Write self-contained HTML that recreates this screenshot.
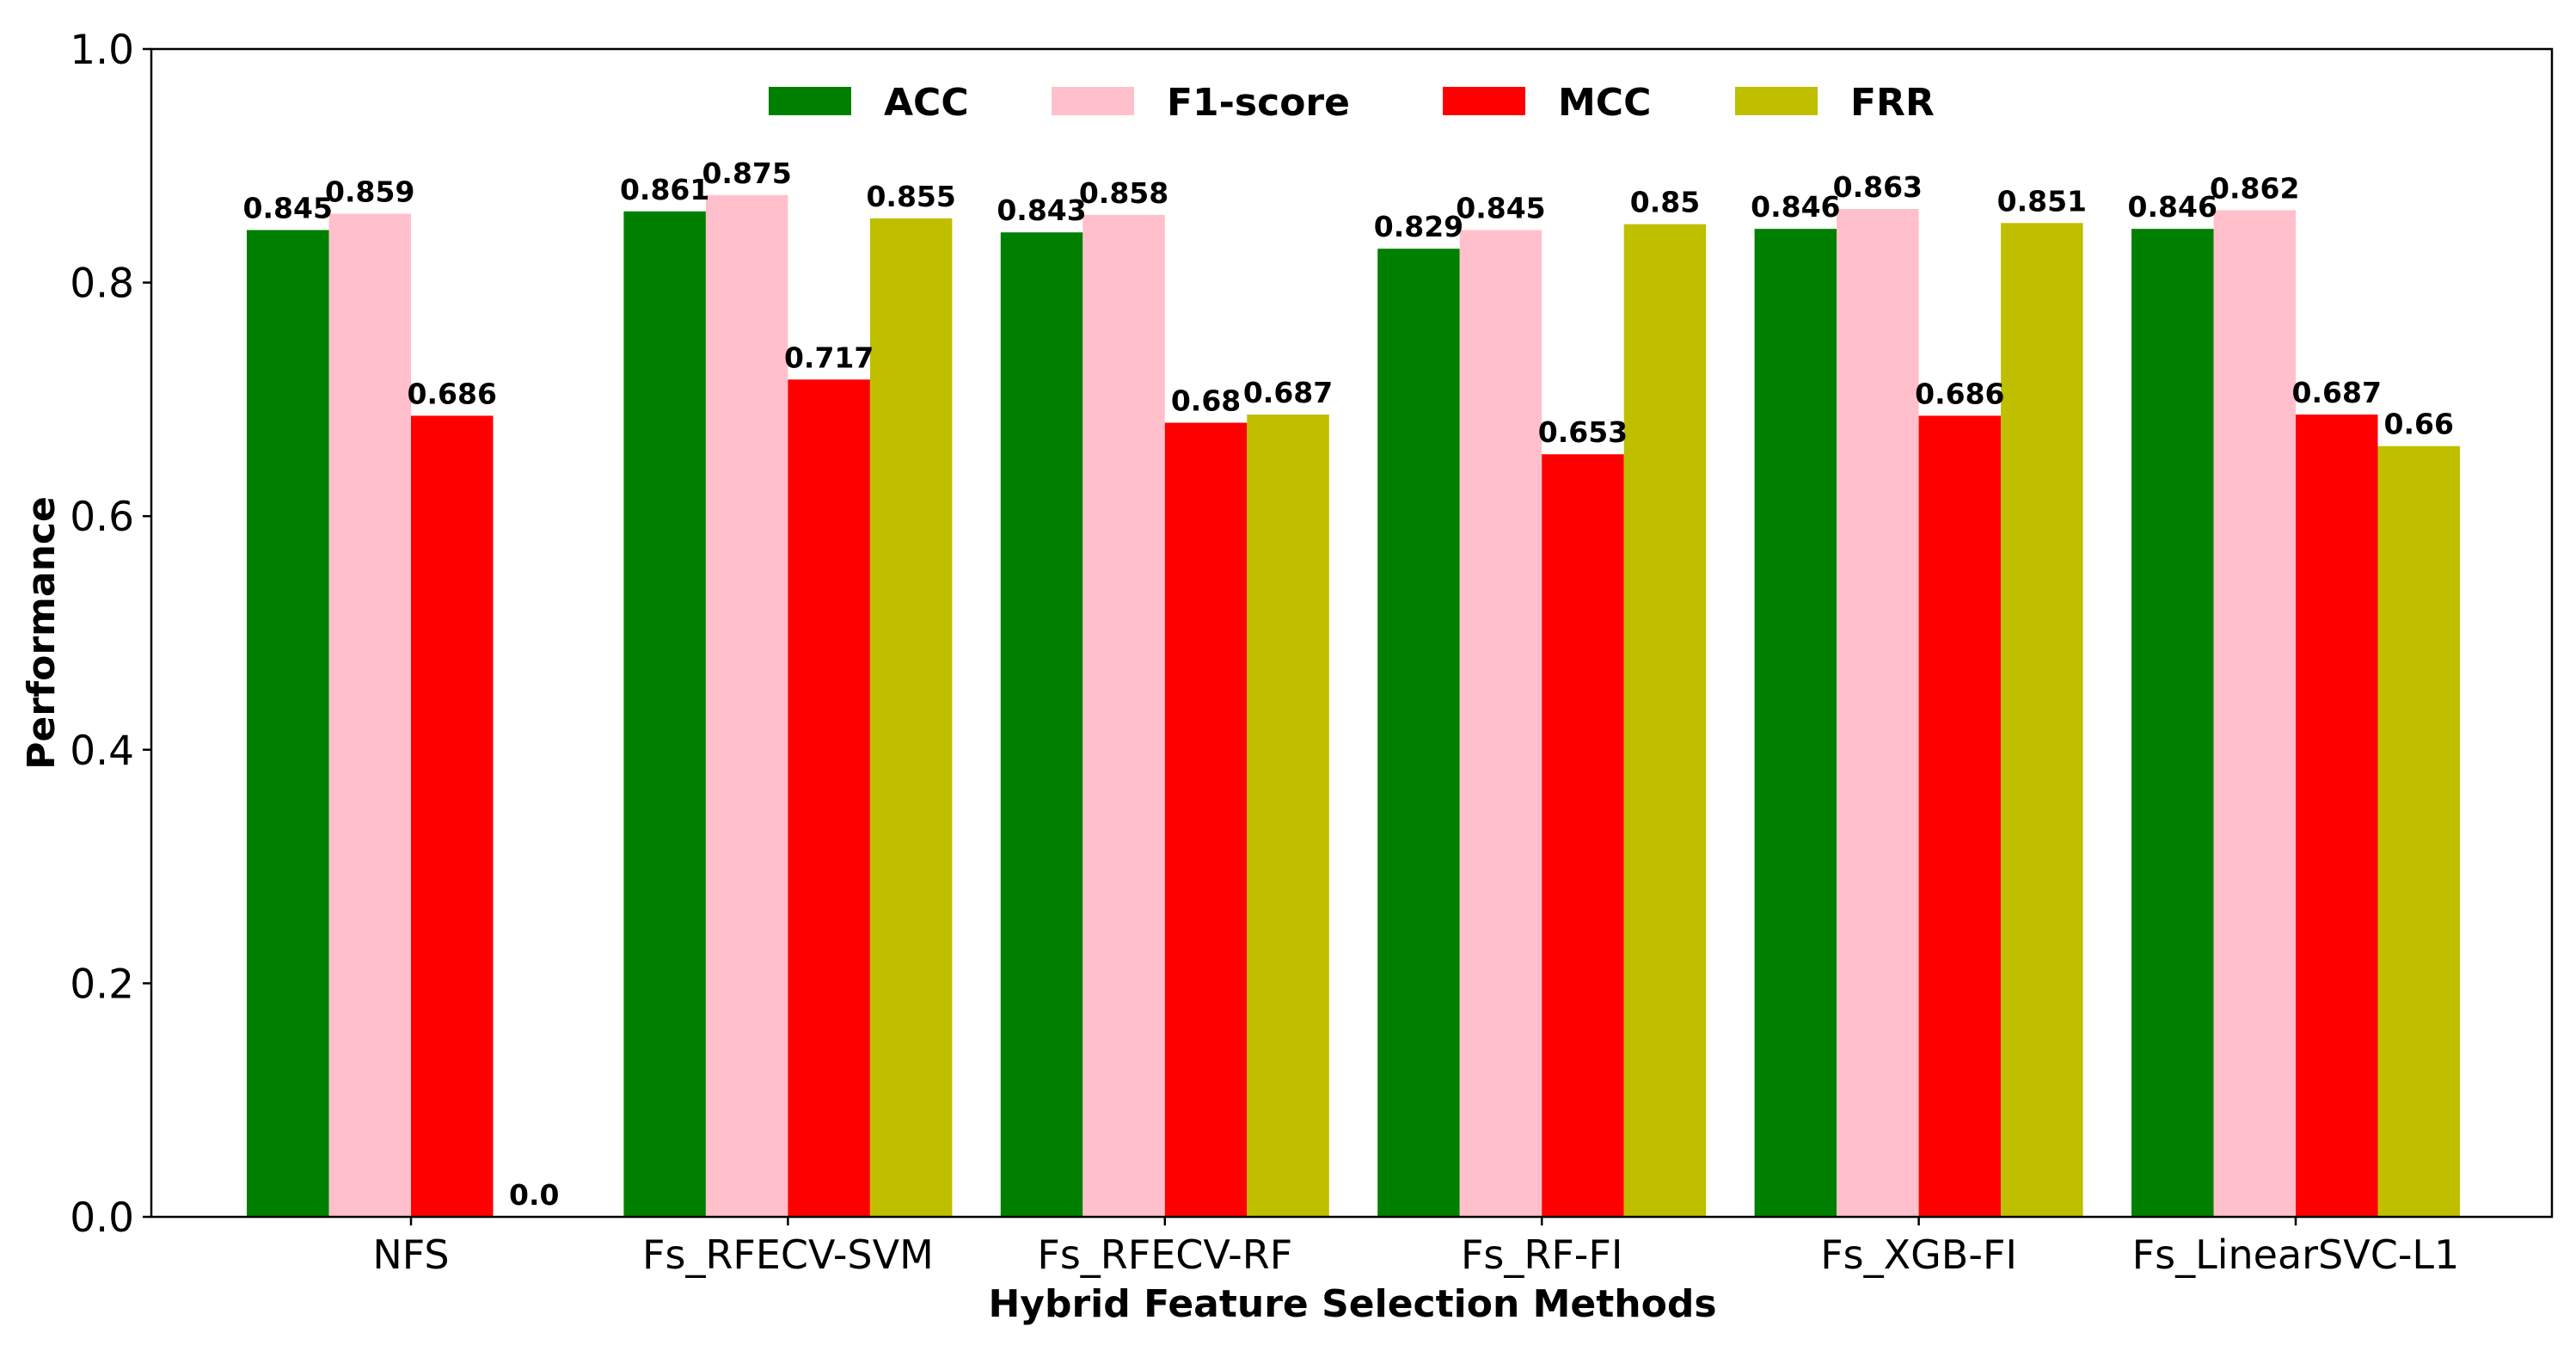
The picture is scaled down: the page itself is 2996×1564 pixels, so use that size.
<!DOCTYPE html>
<html><head><meta charset="utf-8"><style>
html,body{margin:0;padding:0;background:#fff;}
svg{display:block;font-family:"DejaVu Sans","Liberation Sans",sans-serif;}
</style></head><body>
<svg id="chart" width="2996" height="1564" viewBox="0 0 2996 1564" xmlns="http://www.w3.org/2000/svg"></svg>
<script>
const categories = ["NFS","Fs_RFECV-SVM","Fs_RFECV-RF","Fs_RF-FI","Fs_XGB-FI","Fs_LinearSVC-L1"];
const seriesNames = ["ACC","F1-score","MCC","FRR"];
const accValues = [0.845,0.861,0.843,0.829,0.846,0.846];
const f1Values = [0.859,0.875,0.858,0.845,0.863,0.862];
const mccValues = [0.686,0.717,0.68,0.653,0.686,0.687];
const frrValues = [0.0,0.855,0.687,0.85,0.851,0.66];
const yTicks = [0.0,0.2,0.4,0.6,0.8,1.0];

const NS="http://www.w3.org/2000/svg";
const svg=document.getElementById('chart');
const L=176,R=2968,T=57,B=1415;
const colors=["#008000","#ffc0cb","#ff0000","#bfbf00"];
const series=[accValues,f1Values,mccValues,frrValues];
const x0=478;
const groupW=438.4;
const barW=95.5;
function xScale(i){return x0+i*groupW;}
function yScale(v){return B-(v-0)/(1-0)*(B-T);}
function mk(tag,attrs,parent){const e=document.createElementNS(NS,tag);for(const k in attrs)e.setAttribute(k,attrs[k]);(parent||svg).appendChild(e);return e;}
function fmt(v){return Number.isInteger(v)?v.toFixed(1):String(v);}

for(let s=0;s<series.length;s++){
  for(let i=0;i<categories.length;i++){
    const v=series[s][i];
    const cx=xScale(i)+(s-1.5)*barW;
    const r=mk('rect',{x:cx-barW/2,y:yScale(v),width:barW,height:B-yScale(v),fill:colors[s]});
    
    
  }
}
for(let s=0;s<series.length;s++){
  for(let i=0;i<categories.length;i++){
    const v=series[s][i];
    const cx=xScale(i)+(s-1.5)*barW;
    const t=mk('text',{x:cx,y:yScale(v)-14,'text-anchor':'middle','font-size':33,'font-weight':'bold',fill:'#000'});
    t.textContent=fmt(v);
    
    
  }
}
const frame=mk('rect',{x:L,y:T,width:R-L,height:B-T,fill:'none',stroke:'#000','stroke-width':2.5});


for(const v of yTicks){
  const y=yScale(v);
  mk('line',{x1:L-10,x2:L,y1:y,y2:y,stroke:'#000','stroke-width':2.5});
  const t=mk('text',{x:L-20,y:y+17,'text-anchor':'end','font-size':47,fill:'#000'});
  t.textContent=v.toFixed(1);
  
  
}
for(let i=0;i<categories.length;i++){
  const x=xScale(i);
  mk('line',{x1:x,x2:x,y1:B,y2:B+10,stroke:'#000','stroke-width':2.5});
  const t=mk('text',{x:x,y:B+60,'text-anchor':'middle','font-size':46,fill:'#000'});
  t.textContent=categories[i];
  
  
}
const yt=mk('text',{x:0,y:0,transform:'translate(63,736) rotate(-90)','text-anchor':'middle','font-size':44,'font-weight':'bold',fill:'#000'});
yt.textContent='Performance';


const xt=mk('text',{x:1573,y:1531,'text-anchor':'middle','font-size':44,'font-weight':'bold',fill:'#000'});
xt.textContent='Hybrid Feature Selection Methods';


const legX=[894,1223,1678,2018];
const lg=mk('g',{});


for(let s=0;s<seriesNames.length;s++){
  const g=mk('g',{},lg);
  
  
  mk('rect',{x:legX[s],y:101,width:96,height:33,fill:colors[s]},g);
  const t=mk('text',{x:legX[s]+134,y:134,'font-size':44,'font-weight':'bold',fill:'#000'},g);
  t.textContent=seriesNames[s];
}
</script>
</body></html>
